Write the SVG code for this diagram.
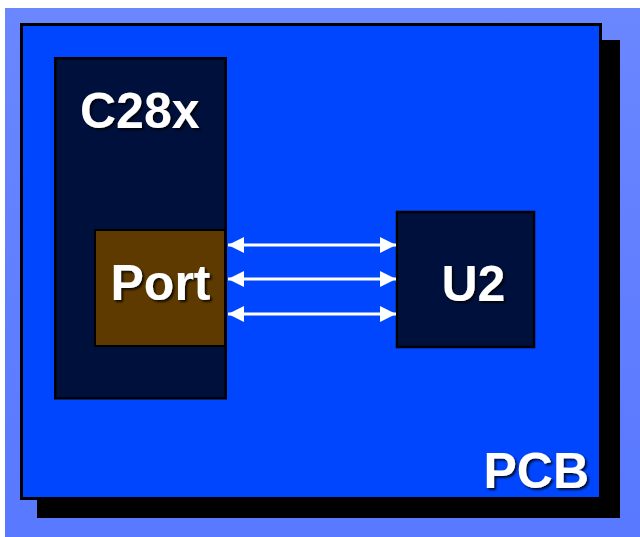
<svg xmlns="http://www.w3.org/2000/svg" width="640" height="537" viewBox="0 0 640 537">
<defs>
<linearGradient id="bg" x1="0" y1="0" x2="0" y2="1">
<stop offset="0" stop-color="#6a87ff"/>
<stop offset="1" stop-color="#5878ff"/>
</linearGradient>
<filter id="sh" x="-20%" y="-20%" width="140%" height="140%">
<feGaussianBlur in="SourceAlpha" stdDeviation="1"/>
<feOffset dx="2" dy="2" result="o"/>
<feFlood flood-color="#000" flood-opacity="0.8"/>
<feComposite in2="o" operator="in"/>
<feMerge><feMergeNode/><feMergeNode in="SourceGraphic"/></feMerge>
</filter>
<marker id="ah" viewBox="0 0 16 16" refX="16" refY="8" markerWidth="16" markerHeight="16" markerUnits="userSpaceOnUse" orient="auto-start-reverse">
<path d="M0,0 L16,8 L0,16 Z" fill="#fff"/>
</marker>
</defs>
<style>
.lbl{font-family:"Liberation Sans",Arial,sans-serif;font-weight:bold;font-size:50px;fill:#fff;filter:url(#sh)}
.chip{fill:#00103c;stroke:#000;stroke-width:2.5}
.wire{stroke:#fff;stroke-width:3;fill:none;marker-start:url(#ah);marker-end:url(#ah)}
</style>
<rect x="5" y="8" width="635" height="529" fill="url(#bg)"/>
<g id="pcb">
<rect x="37" y="40" width="583" height="478" fill="#000"/>
<rect x="21.5" y="24.5" width="579" height="474" fill="#0046ff" stroke="#000" stroke-width="3"/>
<text class="lbl" x="483.5" y="488">PCB</text>
</g>
<g id="c28x">
<rect class="chip" x="55.25" y="58.25" width="170.5" height="340"/>
<text class="lbl" x="80" y="128">C28x</text>
</g>
<g id="port">
<rect x="95" y="230" width="130" height="116" fill="#5e3a00" stroke="#000" stroke-width="2"/>
<text class="lbl" x="110.5" y="300">Port</text>
</g>
<g id="u2">
<rect class="chip" x="397" y="212" width="137" height="135"/>
<text class="lbl" x="441.5" y="301">U2</text>
</g>
<g id="connectors">
<line class="wire" x1="228" y1="245" x2="396" y2="245"/>
<line class="wire" x1="228" y1="279" x2="396" y2="279"/>
<line class="wire" x1="228" y1="314" x2="396" y2="314"/>
</g>
</svg>
